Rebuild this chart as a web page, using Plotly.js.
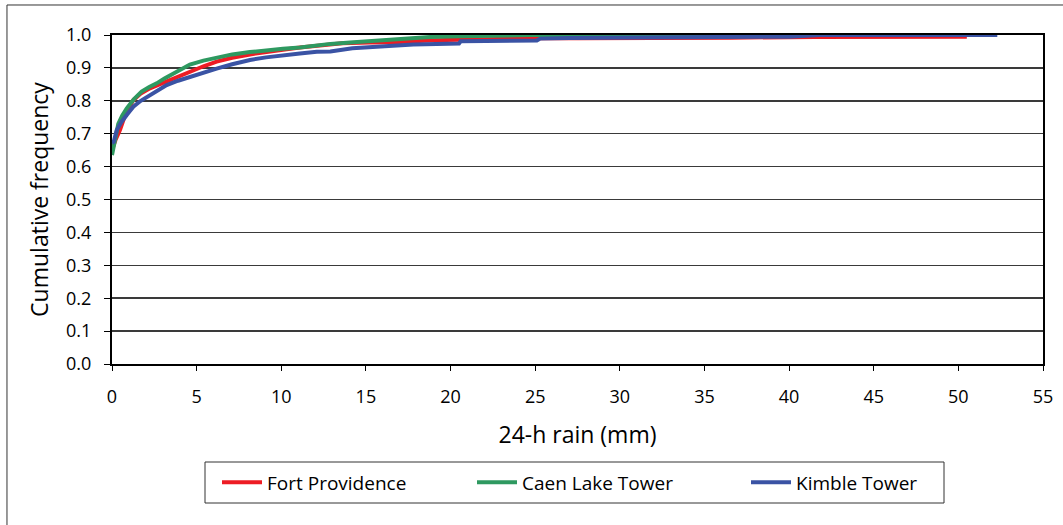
<!DOCTYPE html>
<html>
<head>
<meta charset="utf-8">
<script src="https://cdn.plot.ly/plotly-3.0.1.min.js"></script>
<style>html,body{margin:0;padding:0;background:#fff;}#chart{width:1063px;height:525px;}</style>
</head>
<body>
<div id="chart"></div>
<script>
// Fort Providence
const fpX = [0, 0.2, 0.47, 0.8, 1.26, 1.7, 2.24, 2.7, 3.23, 3.9, 4.6, 5.4, 6.18, 7.1, 8.15, 9.1, 10.1, 11.1, 12.1, 13.6, 15.2, 16.8, 19.0, 20.7, 22.6, 24.7, 27.5, 31.8, 36.5, 41.5, 47.0, 50.5];
const fpY = [0.65, 0.68, 0.711, 0.76, 0.802, 0.822, 0.838, 0.848, 0.858, 0.873, 0.889, 0.905, 0.919, 0.931, 0.941, 0.949, 0.955, 0.962, 0.967, 0.975, 0.977, 0.978, 0.984, 0.986, 0.988, 0.99, 0.99, 0.99, 0.992, 0.994, 0.995, 0.995];
// Caen Lake Tower
const clX = [0, 0.15, 0.37, 0.6, 0.87, 1.3, 1.75, 2.2, 2.64, 3.1, 3.62, 4.1, 4.6, 5.4, 6.18, 7.1, 8.15, 9.1, 10.1, 11.1, 12.9, 14.06, 15.5, 17.0, 18.8, 20.55, 22.5, 24.7, 28, 32, 36, 41.8];
const clY = [0.635, 0.68, 0.73, 0.755, 0.777, 0.805, 0.828, 0.842, 0.853, 0.868, 0.883, 0.898, 0.91, 0.922, 0.932, 0.941, 0.948, 0.954, 0.958, 0.962, 0.973, 0.977, 0.982, 0.987, 0.994, 0.996, 0.998, 1.0, 1.0, 1.0, 1.0, 1.0];
// Kimble Tower
const ktX = [0, 0.1, 0.28, 0.55, 0.87, 1.26, 1.7, 2.24, 2.7, 3.23, 3.9, 4.6, 5.4, 6.18, 7.1, 8.15, 9.1, 10.1, 11.1, 12.1, 12.9, 14.2, 15.8, 17.8, 20.5, 20.6, 25.1, 25.3, 27, 32, 36, 40, 41.8, 46, 52.3];
const ktY = [0.671, 0.675, 0.711, 0.735, 0.757, 0.782, 0.8, 0.818, 0.833, 0.848, 0.861, 0.873, 0.886, 0.898, 0.911, 0.924, 0.932, 0.939, 0.944, 0.949, 0.95, 0.96, 0.966, 0.971, 0.974, 0.981, 0.983, 0.989, 0.991, 0.994, 0.994, 0.995, 1.0, 1.0, 1.0];

const seriesNames = ['Fort Providence', 'Caen Lake Tower', 'Kimble Tower'];
const xTitle = '24-h rain (mm)';
const yTitle = 'Cumulative frequency';

const FONT = 'Open Sans, Noto Sans, sans-serif';

const traces = [
  {x: fpX, y: fpY, name: seriesNames[0], mode: 'lines', line: {color: '#ed1c24', width: 4}, legend: 'legend'},
  {x: clX, y: clY, name: seriesNames[1], mode: 'lines', line: {color: '#2e9960', width: 4}, legend: 'legend2'},
  {x: ktX, y: ktY, name: seriesNames[2], mode: 'lines', line: {color: '#3a53a4', width: 4}, legend: 'legend3'}
];

function px2x(p) { return (p - 112) / 931; }
function px2y(p) { return (364 - p) / 329; }

function legendAt(px) {
  return {
    orientation: 'h', x: px2x(px), xanchor: 'left', y: px2y(482.5), yanchor: 'middle',
    borderwidth: 0, bgcolor: 'rgba(0,0,0,0)', itemwidth: 40,
    font: {size: 19, family: FONT, color: '#000'}
  };
}

const layout = {
  width: 1063, height: 525,
  margin: {l: 112, r: 20, t: 35, b: 161},
  paper_bgcolor: '#fff', plot_bgcolor: '#fff',
  font: {family: FONT, color: '#000', size: 18},
  showlegend: true,
  xaxis: {
    range: [0, 55], dtick: 5, tick0: 0, showgrid: false, zeroline: false,
    showline: true, linecolor: '#000', linewidth: 2, mirror: true,
    ticks: 'outside', ticklen: 5, tickcolor: '#000', tickwidth: 1,
    ticklabelstandoff: 10,
    tickfont: {size: 18, family: FONT}, automargin: false,
    title: {text: xTitle, font: {size: 23, family: FONT}, standoff: 20}
  },
  yaxis: {
    range: [0, 1], dtick: 0.1, tick0: 0, tickformat: '.1f',
    showgrid: true, gridcolor: '#3a3a3a', gridwidth: 1.5, zeroline: false,
    showline: true, linecolor: '#000', linewidth: 2, mirror: true,
    ticks: 'outside', ticklen: 6, tickcolor: '#000', tickwidth: 1,
    ticklabelstandoff: 9,
    tickfont: {size: 18, family: FONT}, automargin: false,
    title: {text: yTitle, font: {size: 23, family: FONT}, standoff: 11}
  },
  legend: legendAt(217),
  legend2: legendAt(472),
  legend3: legendAt(746),
  shapes: [
    {
      type: 'rect', xref: 'paper', yref: 'paper', layer: 'below',
      x0: -0.1128, x1: 1.2, y0: -0.6, y1: 1.0912,
      line: {color: '#333', width: 1}, fillcolor: 'rgba(0,0,0,0)'
    },
    {
      type: 'rect', xref: 'paper', yref: 'paper', layer: 'below',
      x0: px2x(205), x1: px2x(944), y0: px2y(503), y1: px2y(462),
      line: {color: '#333', width: 1}, fillcolor: 'rgba(0,0,0,0)'
    }
  ]
};

Plotly.newPlot('chart', traces, layout, {displayModeBar: false, staticPlot: true});
</script>
</body>
</html>
